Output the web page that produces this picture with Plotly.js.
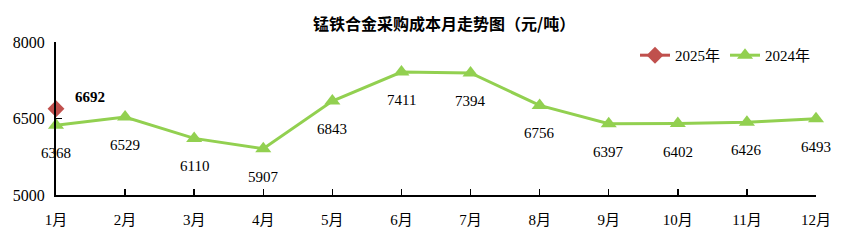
<!DOCTYPE html>
<html><head><meta charset="utf-8">
<script src="https://cdn.plot.ly/plotly-3.0.1.min.js"></script>
<style>body{margin:0}#c{width:851px;height:244px}</style>
</head><body><div id="c"></div>
<script>
const months = ['1月','2月','3月','4月','5月','6月','7月','8月','9月','10月','11月','12月'];
const values2024 = [6368,6529,6110,5907,6843,7411,7394,6756,6397,6402,6426,6493];
const months2025 = ['1月'];
const values2025 = [6692];
const F = 'Liberation Serif, Noto Sans CJK SC, serif';
const traces = [
  {x: months2025, y: values2025, name: '2025年', type: 'scatter', mode: 'lines+markers',
   line: {color: '#C0504D', width: 3}, marker: {symbol: 'diamond', size: 13, color: '#C0504D'},
   cliponaxis: false},
  {x: months, y: values2024, name: '2024年', type: 'scatter', mode: 'lines+markers',
   line: {color: '#92D050', width: 3}, marker: {symbol: 'triangle-up', size: 14, color: '#92D050'},
   cliponaxis: false}
];
const annotations = values2024.map((v, i) => ({
  x: months[i], y: v, text: String(v), showarrow: false, yshift: -28,
  font: {family: F, size: 15, color: '#000'}
})).concat(values2025.map((v, i) => ({
  x: months2025[i], y: v, text: '<b>' + v + '</b>', showarrow: false, xshift: 34, yshift: 12,
  font: {family: F, size: 15, color: '#000'}
})));
const layout = {
  width: 851, height: 244,
  margin: {l: 56, r: 35, t: 42, b: 49},
  paper_bgcolor: '#fff', plot_bgcolor: '#fff',
  font: {family: F, size: 15, color: '#000'},
  title: {text: '<b>锰铁合金采购成本月走势图（元/吨）</b>', x: 0.522, xanchor: 'center', y: 0.925,
          font: {family: 'Noto Sans CJK SC, serif', size: 16, color: '#000'}},
  showlegend: true,
  legend: {orientation: 'h', x: 1.0, xanchor: 'right', y: 1.02, yanchor: 'top',
           font: {family: F, size: 15}, bgcolor: 'rgba(0,0,0,0)', traceorder: 'normal'},
  annotations: annotations,
  xaxis: {type: 'category', range: [0, 11], showline: true, linecolor: '#000', linewidth: 2,
          ticks: 'inside', ticklen: 6, tickcolor: '#000', tickwidth: 1.5, showgrid: false, zeroline: false,
          tickfont: {family: F, size: 15}, ticklabelstandoff: 10, fixedrange: true},
  yaxis: {range: [5000, 8000], dtick: 1500, tick0: 5000, showline: true, linecolor: '#000', linewidth: 2,
          ticks: 'inside', ticklen: 6, tickcolor: '#000', tickwidth: 1.5, showgrid: false, zeroline: false,
          tickfont: {family: F, size: 16}, ticklabelstandoff: 6}
};
Plotly.newPlot('c', traces, layout, {displayModeBar: false, staticPlot: true});
</script></body></html>
